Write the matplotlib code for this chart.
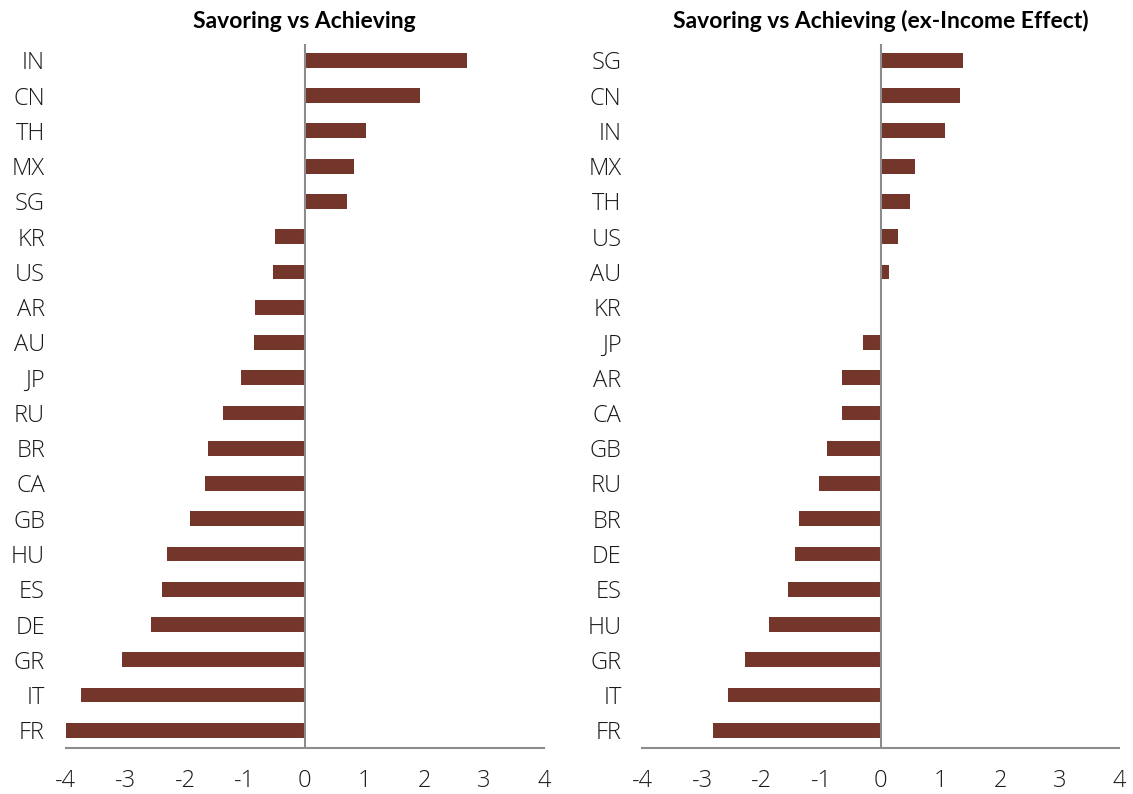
import matplotlib
matplotlib.use("Agg")
import matplotlib.pyplot as plt

# Country scores, top to bottom as listed on each panel
countries_raw = ["IN", "CN", "TH", "MX", "SG", "KR", "US", "AR", "AU", "JP",
                 "RU", "BR", "CA", "GB", "HU", "ES", "DE", "GR", "IT", "FR"]
scores_raw = [2.72, 1.92, 1.03, 0.82, 0.70, -0.50, -0.54, -0.84, -0.85, -1.06,
              -1.36, -1.62, -1.67, -1.92, -2.30, -2.39, -2.57, -3.06, -3.74, -4.00]

countries_adj = ["SG", "CN", "IN", "MX", "TH", "US", "AU", "KR", "JP", "AR",
                 "CA", "GB", "RU", "BR", "DE", "ES", "HU", "GR", "IT", "FR"]
scores_adj = [1.38, 1.32, 1.07, 0.57, 0.48, 0.28, 0.13, 0.0, -0.30, -0.66,
              -0.66, -0.90, -1.04, -1.38, -1.44, -1.55, -1.88, -2.28, -2.57, -2.81]

titles = ["Savoring vs Achieving", "Savoring vs Achieving (ex-Income Effect)"]
xticks = [-4, -3, -2, -1, 0, 1, 2, 3, 4]

bar_color = "#74352a"
axis_color = "#8c8c8c"
tick_font = "Open Sans"
title_font = "Lato"

fig = plt.figure(figsize=(11.33, 7.94), dpi=100)
ax1 = fig.add_axes([0.058, 0.058, 0.422, 0.886])
ax2 = fig.add_axes([0.567, 0.058, 0.421, 0.886])

for ax, labels, values, title in [(ax1, countries_raw, scores_raw, titles[0]),
                                  (ax2, countries_adj, scores_adj, titles[1])]:
    pos = list(range(len(labels)))
    ax.barh(pos, values, height=0.42, color=bar_color, zorder=2)
    ax.set_ylim(len(labels) - 0.5, -0.45)
    ax.set_xlim(-4, 4)
    ax.set_yticks(pos)
    ax.set_yticklabels(labels)
    ax.set_xticks(xticks)
    ax.set_xticklabels([str(t) for t in xticks])
    ax.tick_params(axis="both", length=0, labelsize=17, labelcolor="#1a1a1a")
    ax.tick_params(axis="y", pad=15)
    ax.tick_params(axis="x", pad=15)
    for lbl in ax.get_xticklabels() + ax.get_yticklabels():
        lbl.set_fontfamily(tick_font)
        lbl.set_fontweight("light")
    for side in ["top", "right", "left"]:
        ax.spines[side].set_visible(False)
    ax.spines["bottom"].set_color(axis_color)
    ax.spines["bottom"].set_linewidth(1.5)
    ax.axvline(0, color=axis_color, linewidth=1.5, zorder=3)
    ax.set_title(title, fontfamily=title_font, fontweight="bold",
                 fontsize=16.5, pad=12)

fig.savefig("out.png", dpi=100, facecolor="white")
